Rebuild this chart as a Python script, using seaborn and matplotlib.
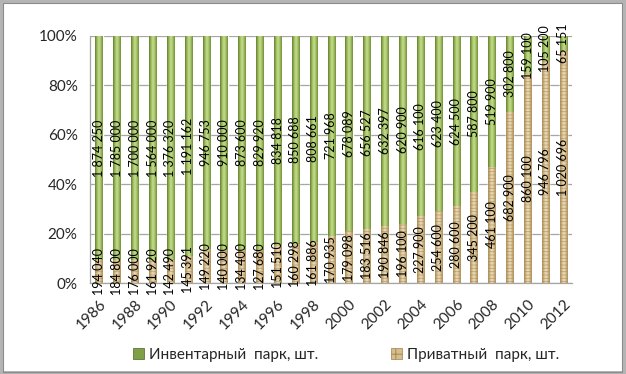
import numpy as np
import matplotlib.pyplot as plt
import seaborn as sns
import pandas as pd
from matplotlib.colors import LinearSegmentedColormap
from matplotlib.patches import Rectangle, Patch

years = list(range(1986, 2013))
inventory = [1874250, 1785000, 1700000, 1564000, 1376320, 1191162, 946753, 910000,
             873600, 829920, 834818, 850688, 808661, 721968, 678089, 656527, 632397,
             620900, 616100, 623400, 624500, 587800, 519900, 302800, 159100, 105200,
             65151]
private = [194040, 184800, 176000, 161920, 142490, 145391, 149220, 140000, 134400,
           127680, 151510, 160298, 161886, 170935, 179098, 183516, 190846, 196100,
           227900, 254600, 280600, 345200, 461100, 682900, 860100, 946796, 1020696]
series_names = ["Инвентарный  парк, шт.", "Приватный  парк, шт."]

GREEN = "#9BBB59"
TAN = "#D6BE8C"


def fmt(v):
    return f"{int(v):,}".replace(",", " ")


def shade_bars(ax, patches, cmap, hatch=None):
    grad = np.linspace(0, 1, 64).reshape(1, -1)
    for p in patches:
        x, y = p.get_x(), p.get_y()
        w, h = p.get_width(), p.get_height()
        if h <= 0:
            continue
        im = ax.imshow(grad, cmap=cmap, extent=(x, x + w, y, y + h),
                       aspect="auto", zorder=3, interpolation="bicubic")
        im.set_clip_path(p)
        if hatch:
            ax.add_patch(Rectangle((x, y), w, h, fill=False, hatch=hatch,
                                   lw=0, edgecolor="#9C7F4E", alpha=0.55, zorder=4))


def plot_chart(filename):
    df = pd.DataFrame({"year": years, "inv": inventory, "priv": private})
    df["total"] = df["inv"] + df["priv"]
    df["priv_share"] = df["priv"] / df["total"] * 100
    df["inv_share"] = df["inv"] / df["total"] * 100
    df["full"] = 100.0

    sns.set_theme(style="white")
    plt.rcParams["font.family"] = ["Lato", "DejaVu Sans"]
    plt.rcParams["hatch.linewidth"] = 0.6

    fig = plt.figure(figsize=(6.26, 3.74), dpi=100)
    ax = fig.add_axes([0.144, 0.243, 0.770, 0.661])

    sns.barplot(data=df, x="year", y="full", color=GREEN, width=0.4,
                saturation=1, ax=ax, zorder=2)
    n = len(df)
    sns.barplot(data=df, x="year", y="priv_share", color=TAN, width=0.4,
                saturation=1, ax=ax, zorder=2)
    green_patches = ax.patches[:n]
    tan_patches = ax.patches[n:2 * n]

    green_cmap = LinearSegmentedColormap.from_list(
        "g", ["#5F7A2C", "#9BBB59", "#C9DE95", "#A3C263", "#6E8B35"])
    tan_cmap = LinearSegmentedColormap.from_list(
        "t", ["#A88A55", "#D4BC8A", "#F0E2C4", "#D4BC8A", "#A88A55"])
    shade_bars(ax, list(green_patches), green_cmap)
    shade_bars(ax, list(tan_patches), tan_cmap, hatch="-----")

    # data labels, centred in each segment
    for i, row in df.iterrows():
        ax.text(i, row["priv_share"] / 2, fmt(row["priv"]), rotation=90,
                ha="center", va="center", fontsize=9, color="black", zorder=6)
        ax.text(i, row["priv_share"] + row["inv_share"] / 2, fmt(row["inv"]),
                rotation=90, ha="center", va="center", fontsize=9,
                color="black", zorder=6)

    ax.set_xlim(-0.5, n - 0.5)
    ax.set_ylim(0, 100)
    ax.set_yticks(range(0, 101, 20))
    ax.set_yticklabels([f"{v}%" for v in range(0, 101, 20)], fontsize=11)
    ax.yaxis.grid(True, color="#A6A6A6", lw=0.9)
    ax.set_axisbelow(True)

    ax.set_xticks(range(0, n, 2))
    ax.set_xticklabels([str(y) for y in years[::2]], rotation=45, ha="right",
                       rotation_mode="anchor", fontsize=11)
    ax.set_xticks(np.arange(-0.5, n, 1), minor=True)
    ax.tick_params(axis="x", which="major", length=0, pad=10)
    ax.tick_params(axis="x", which="minor", length=4, color="#A6A6A6", width=0.9)
    ax.tick_params(axis="y", length=5, color="#A6A6A6", width=0.9, pad=4)
    ax.set_xlabel("")
    ax.set_ylabel("")
    for side in ["top", "right"]:
        ax.spines[side].set_visible(False)
    for side in ["left", "bottom"]:
        ax.spines[side].set_color("#A6A6A6")
        ax.spines[side].set_linewidth(0.9)

    handles = [Patch(facecolor="#7FA046", edgecolor="#4F6228", lw=0.5),
               Patch(facecolor=TAN, edgecolor="#9C7F4E", lw=0.5, hatch="++")]
    fig.legend(handles, series_names, loc="center", bbox_to_anchor=(0.553, 0.052),
               ncol=2, frameon=False, fontsize=11, handlelength=0.7,
               handleheight=0.7, handletextpad=0.3, columnspacing=4.8)

    # grey bevel frame around the chart area
    fig.patches.append(Rectangle((0, 0), 1, 1, transform=fig.transFigure,
                                 fill=False, edgecolor="#B4B4B4", lw=5, zorder=10))
    fig.patches.append(Rectangle((0.004, 0.006), 0.99, 0.986,
                                 transform=fig.transFigure, fill=False,
                                 edgecolor="#8C8C8C", lw=0.8, zorder=10))

    fig.savefig(filename, dpi=100)
    plt.close(fig)


if __name__ == "__main__":
    plot_chart("out.png")
